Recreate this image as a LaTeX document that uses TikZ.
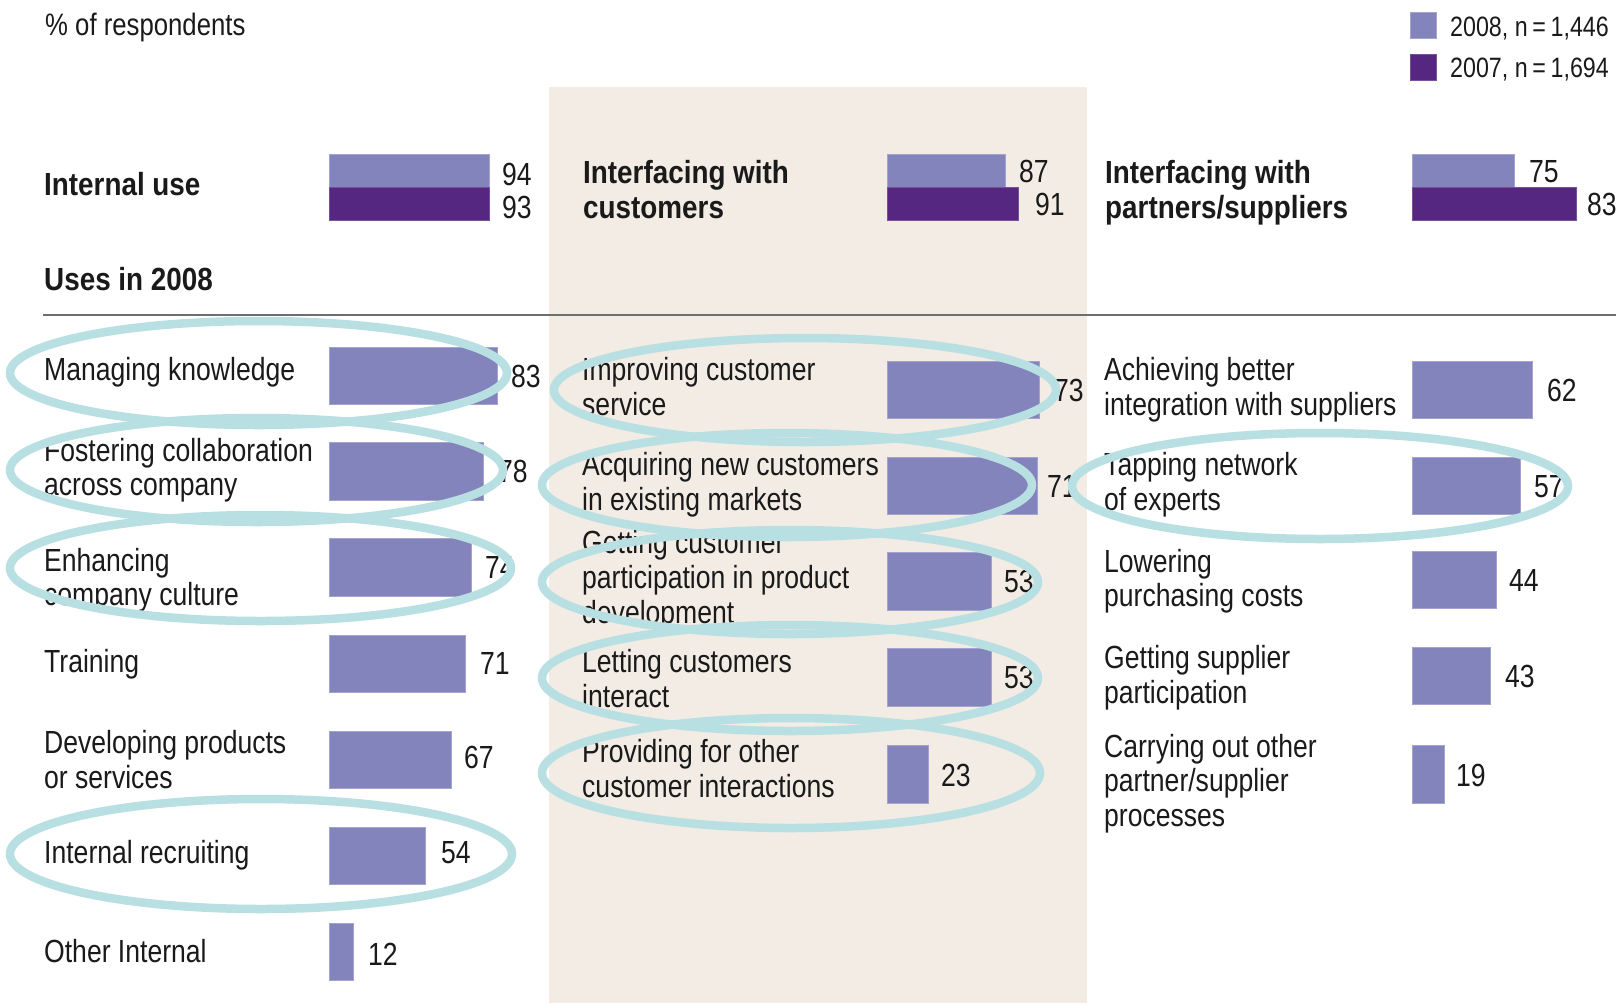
\documentclass[tikz,border=0pt]{standalone}
\usepackage{fontspec}
\setmainfont{Liberation Sans}[FakeStretch=0.83]
\newfontfamily\hdrfont{Liberation Sans}[FakeStretch=0.87]
\definecolor{barA}{RGB}{132,132,189}
\definecolor{barB}{RGB}{85,39,129}
\definecolor{beige}{RGB}{242,236,229}
\definecolor{ringc}{RGB}{184,223,226}
\definecolor{ink}{RGB}{26,26,26}
\definecolor{rulec}{RGB}{110,110,110}
\begin{document}
\begin{tikzpicture}[x=1pt,y=-1pt,
  txt/.style={anchor=base west, inner sep=0pt, text=ink, font=\fontsize{32}{35}\selectfont},
  hdr/.style={anchor=base west, inner sep=0pt, text=ink, font=\hdrfont\fontsize{32}{35}\selectfont\bfseries},
  legtxt/.style={anchor=base west, inner sep=0pt, text=ink, font=\fontsize{28}{32}\selectfont},
  b08/.style={fill=barA, draw=barA!75!white, line width=0.8pt},
  b07/.style={fill=barB, draw=barB!80!white, line width=0.8pt},
  ring/.style={draw=ringc, line width=8.5pt}]
\useasboundingbox (0,0) rectangle (1623,1005);
\fill[white] (0,0) rectangle (1623,1005);
\fill[beige] (549,87) rectangle (1087,1003);
\draw[rulec, line width=1.8pt] (43,315) -- (1616,315);

% top texts and legend
\node[txt, font=\fontsize{31}{34}\selectfont] (resp) at (45,35) {\% of respondents};
\fill[b08] (1410,12) rectangle (1436,38);
\fill[b07] (1410,54) rectangle (1436,80);
\node[legtxt] (l08) at (1450,36) {2008, n\,=\,1,446};
\node[legtxt] (l07) at (1450,77) {2007, n\,=\,1,694};

% headers
\node[hdr] (h1) at (44,195) {Internal use};
\filldraw[b08] (329,154) rectangle (489,187);
\filldraw[b07] (329,187) rectangle (489,220);
\node[txt] (v94) at (502,185) {94};
\node[txt] (v93) at (502,218) {93};
\node[hdr] (uses) at (44,290) {Uses in 2008};

\node[hdr] (h2a) at (583,183) {Interfacing with};
\node[hdr] (h2b) at (583,218) {customers};
\filldraw[b08] (887,154) rectangle (1005,187);
\filldraw[b07] (887,187) rectangle (1018,220);
\node[txt] (v87) at (1019,182) {87};
\node[txt] (v91) at (1035,215) {91};

\node[hdr] (h3a) at (1105,183) {Interfacing with};
\node[hdr] (h3b) at (1105,218) {partners/suppliers};
\filldraw[b08] (1412,154) rectangle (1514,187);
\filldraw[b07] (1412,187) rectangle (1576,220);
\node[txt] (v75) at (1529,182) {75};
\node[txt] (v83h) at (1587,215) {83};

% left column
\filldraw[b08] (329,347) rectangle (497,404);
\filldraw[b08] (329,442) rectangle (483,500);
\filldraw[b08] (329,538) rectangle (471,596);
\filldraw[b08] (329,635) rectangle (465,692);
\filldraw[b08] (329,731) rectangle (451,788);
\filldraw[b08] (329,827) rectangle (425,884);
\filldraw[b08] (329,923) rectangle (353,980);
\node[txt] (a1) at (44,380) {Managing knowledge};
\node[txt] (a2a) at (44,461) {Fostering collaboration};
\node[txt] (a2b) at (44,495) {across company};
\node[txt] (a3a) at (44,571) {Enhancing};
\node[txt] (a3b) at (44,605) {company culture};
\node[txt] (a4) at (44,672) {Training};
\node[txt] (a5a) at (44,753) {Developing products};
\node[txt] (a5b) at (44,788) {or services};
\node[txt] (a6) at (44,863) {Internal recruiting};
\node[txt] (a7) at (44,962) {Other Internal};
\node[txt] (va1) at (511,387) {83};
\node[txt] (va2) at (498,482) {78};
\node[txt] (va3) at (485,578) {74};
\node[txt] (va4) at (480,674) {71};
\node[txt] (va5) at (464,768) {67};
\node[txt] (va6) at (441,863) {54};
\node[txt] (va7) at (368,965) {12};

% center column
\filldraw[b08] (887,361) rectangle (1039,418);
\filldraw[b08] (887,457) rectangle (1037,514);
\filldraw[b08] (887,552) rectangle (991,610);
\filldraw[b08] (887,648) rectangle (991,706);
\filldraw[b08] (887,745) rectangle (928,803);
\node[txt] (c1a) at (582,380) {Improving customer};
\node[txt] (c1b) at (582,415) {service};
\node[txt] (c2a) at (582,475) {Acquiring new customers};
\node[txt] (c2b) at (582,510) {in existing markets};
\node[txt] (c3a) at (582,553) {Getting customer};
\node[txt] (c3b) at (582,588) {participation in product};
\node[txt] (c3c) at (582,623) {development};
\node[txt] (c4a) at (582,672) {Letting customers};
\node[txt] (c4b) at (582,707) {interact};
\node[txt] (c5a) at (582,762) {Providing for other};
\node[txt] (c5b) at (582,797) {customer interactions};
\node[txt] (vc1) at (1054,401) {73};
\node[txt] (vc2) at (1047,497) {71};
\node[txt] (vc3) at (1004,592) {53};
\node[txt] (vc4) at (1004,688) {53};
\node[txt] (vc5) at (941,786) {23};

% right column
\filldraw[b08] (1412,361) rectangle (1532,418);
\filldraw[b08] (1412,457) rectangle (1520,514);
\filldraw[b08] (1412,551) rectangle (1496,608);
\filldraw[b08] (1412,647) rectangle (1490,704);
\filldraw[b08] (1412,745) rectangle (1444,803);
\node[txt] (r1a) at (1104,380) {Achieving better};
\node[txt] (r1b) at (1104,415) {integration with suppliers};
\node[txt] (r2a) at (1104,475) {Tapping network};
\node[txt] (r2b) at (1104,510) {of experts};
\node[txt] (r3a) at (1104,572) {Lowering};
\node[txt] (r3b) at (1104,606) {purchasing costs};
\node[txt] (r4a) at (1104,668) {Getting supplier};
\node[txt] (r4b) at (1104,703) {participation};
\node[txt] (r5a) at (1104,757) {Carrying out other};
\node[txt] (r5b) at (1104,791) {partner/supplier};
\node[txt] (r5c) at (1104,826) {processes};
\node[txt] (vr1) at (1547,401) {62};
\node[txt] (vr2) at (1534,497) {57};
\node[txt] (vr3) at (1509,591) {44};
\node[txt] (vr4) at (1505,687) {43};
\node[txt] (vr5) at (1456,786) {19};

% highlight ellipses
\draw[ring] (258.5,373) ellipse [x radius=248.5pt, y radius=52pt];
\draw[ring] (256.5,470) ellipse [x radius=246.5pt, y radius=52pt];
\draw[ring] (260.5,568) ellipse [x radius=250.5pt, y radius=53pt];
\draw[ring] (261,854) ellipse [x radius=251pt, y radius=55pt];
\draw[ring] (805,390) ellipse [x radius=251pt, y radius=52pt];
\draw[ring] (787,485) ellipse [x radius=245pt, y radius=52pt];
\draw[ring] (790,582) ellipse [x radius=248pt, y radius=52pt];
\draw[ring] (790,678) ellipse [x radius=248pt, y radius=53pt];
\draw[ring] (791,773) ellipse [x radius=249pt, y radius=55pt];
\draw[ring] (1320,486) ellipse [x radius=248pt, y radius=53pt];
\end{tikzpicture}
\end{document}
